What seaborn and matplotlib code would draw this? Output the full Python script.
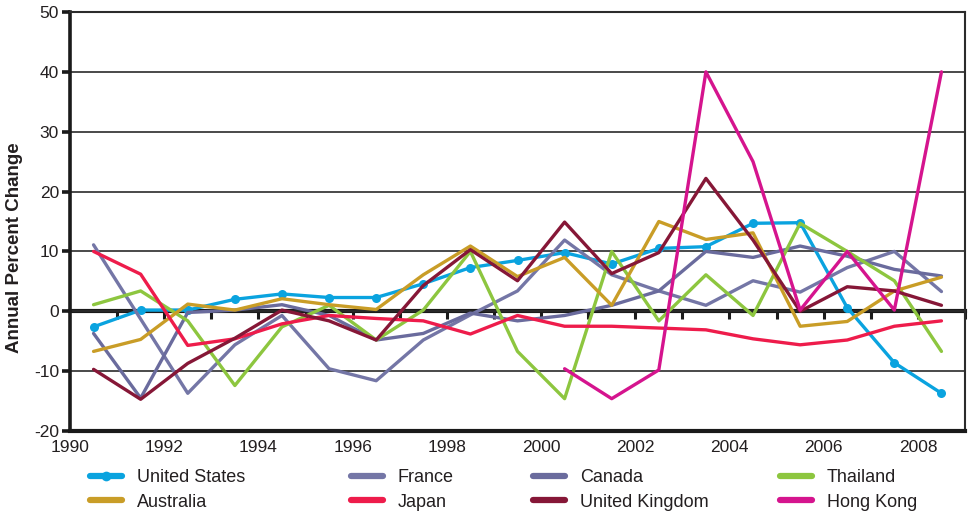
import matplotlib
matplotlib.use("Agg")
import matplotlib.pyplot as plt
from matplotlib.lines import Line2D
import seaborn as sns
import pandas as pd
import numpy as np

# Annual percent change by country, 1990-2008
years = list(range(1990, 2009))

united_states = [-2.6, 0.2, 0.2, 2.0, 2.9, 2.3, 2.3, 4.6, 7.3, 8.5, 9.8, 7.9, 10.5, 10.8, 14.7, 14.8, 0.6, -8.6, -13.7]
france = [11.1, -1.3, -13.7, -5.6, -0.7, -9.6, -11.6, -4.8, -0.6, 3.4, 11.9, 6.1, 3.4, 1.0, 5.1, 3.2, 7.3, 10.0, 3.3]
canada = [-3.7, -14.5, -0.2, 0.2, 1.1, -0.7, -4.8, -3.7, -0.3, -1.6, -0.7, 1.0, 3.4, 10.0, 9.0, 10.9, 9.2, 7.0, 5.9]
thailand = [1.1, 3.4, -1.6, -12.4, -2.6, 1.0, -4.8, 0.2, 10.0, -6.7, -14.6, 10.0, -1.6, 6.1, -0.7, 14.7, 10.0, 5.1, -6.7]
australia = [-6.7, -4.7, 1.2, 0.2, 2.1, 1.1, 0.3, 6.1, 10.9, 5.8, 9.0, 1.0, 15.0, 12.0, 13.1, -2.5, -1.7, 3.4, 5.7]
japan = [10.0, 6.2, -5.7, -4.6, -2.1, -0.7, -1.2, -1.6, -3.8, -0.7, -2.5, -2.5, -2.8, -3.1, -4.6, -5.6, -4.8, -2.5, -1.6]
united_kingdom = [-9.7, -14.7, -8.7, -4.5, 0.2, -1.6, -4.8, 4.3, 10.3, 5.1, 14.9, 6.3, 9.8, 22.2, 11.9, 0.0, 4.1, 3.4, 1.0]
hong_kong = [np.nan] * 10 + [-9.6, -14.6, -9.8, 40.0, 25.0, 0.2, 10.0, 0.2, 40.0]

countries = ["United States", "France", "Canada", "Thailand",
             "Australia", "Japan", "United Kingdom", "Hong Kong"]
series = [united_states, france, canada, thailand,
          australia, japan, united_kingdom, hong_kong]
colors = ["#0AA3DF", "#7476A6", "#6A6B9D", "#8DC63F",
          "#C99D27", "#EE1C4B", "#861737", "#D5148E"]

rows = []
for name, vals in zip(countries, series):
    for yr, v in zip(years, vals):
        if not np.isnan(v):
            rows.append({"country": name, "year": yr, "change": v})
df = pd.DataFrame(rows)
# each value sits in the middle of its year band
df["xpos"] = df["year"] + 0.5

sns.set_theme(style="white")
plt.rcParams["font.family"] = ["Liberation Sans", "DejaVu Sans"]
plt.rcParams["axes.unicode_minus"] = False

fig = plt.figure(figsize=(9.7, 5.16), dpi=100)
ax = fig.add_axes([70 / 970, 1 - 431 / 516, 895 / 970, 419 / 516])

ymin, ymax = -20, 50
ax.set_ylim(ymin, ymax)
ax.set_xlim(years[0], years[-1] + 1)

# horizontal gridlines
ax.set_yticks(range(-20, 51, 10))
ax.yaxis.grid(True, color="#2B2B2B", linewidth=1.2)
ax.set_axisbelow(True)

for name, color in zip(countries, colors):
    sub = df[df["country"] == name]
    kw = dict(marker="o", markersize=6.5, markeredgewidth=0) if name == "United States" else {}
    sns.lineplot(data=sub, x="xpos", y="change", color=color, linewidth=2.4,
                 ax=ax, legend=False, sort=False, **kw)

# frame
for side in ["left", "bottom"]:
    ax.spines[side].set_color("#1A1A1A")
ax.spines["left"].set_linewidth(2.6)
ax.spines["bottom"].set_linewidth(3.0)
for side in ["top", "right"]:
    ax.spines[side].set_color("#2B2B2B")
    ax.spines[side].set_linewidth(1.5)

ax.tick_params(axis="y", direction="out", length=6, width=2.6, color="#1A1A1A",
               labelsize=12.5, labelcolor="#231F20", pad=2, left=True)
ax.set_xticks(range(1990, 2009, 2))
ax.set_xticklabels([str(y) for y in range(1990, 2009, 2)])
ax.tick_params(axis="x", length=0, pad=6.5, labelsize=12.5, labelcolor="#231F20")
ax.set_xlabel("")
ax.set_ylabel("")

# category axis crossing at zero, with a tick at every year boundary
zero_frac = (0 - ymin) / (ymax - ymin)
sec = ax.secondary_xaxis(zero_frac)
sec.set_xticks(range(years[0] + 1, years[-1] + 2))
sec.tick_params(axis="x", direction="out", length=6, width=2.2, color="#1A1A1A",
                labelbottom=False, labeltop=False)
sec.spines["bottom"].set_linewidth(3.0)
sec.spines["bottom"].set_color("#1A1A1A")

fig.text(15 / 970, 1 - 248 / 516, "Annual Percent Change", rotation=90,
         ha="center", va="center", fontsize=13.5, fontweight="bold", color="#231F20")

# legend in four columns of two entries
col_x = [90, 351, 533, 780]
for c in range(4):
    handles = []
    labels = []
    for r in range(2):
        i = c + 4 * r
        if countries[i] == "United States":
            h = Line2D([], [], color=colors[i], linewidth=4.5, marker="o",
                       markersize=7, markeredgewidth=0)
        else:
            h = Line2D([], [], color=colors[i], linewidth=4.5)
        handles.append(h)
        labels.append(countries[i])
    leg = fig.legend(handles, labels, loc="center left",
                     bbox_to_anchor=(col_x[c] / 970, 1 - 490 / 516),
                     frameon=False, borderpad=0, borderaxespad=0,
                     handlelength=1.75, handletextpad=0.85, labelspacing=0.42,
                     prop={"size": 13})
    for t in leg.get_texts():
        t.set_color("#231F20")

fig.savefig("out.png", dpi=100)
